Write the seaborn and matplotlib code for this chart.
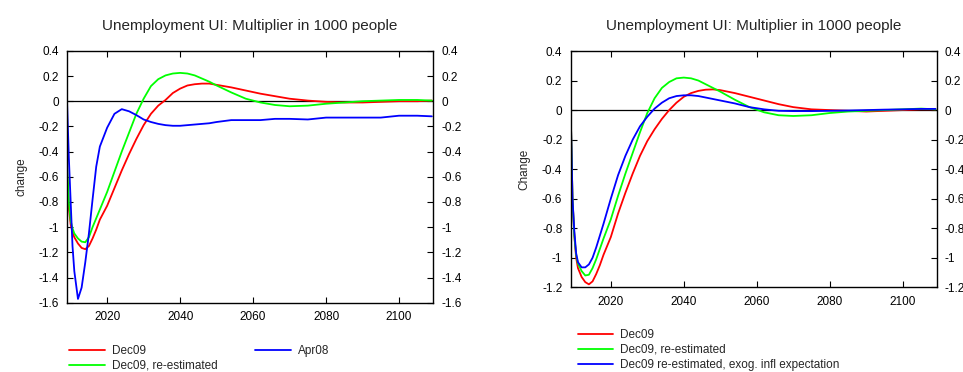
import matplotlib
matplotlib.use("Agg")
import matplotlib.pyplot as plt
import seaborn as sns
import pandas as pd
from matplotlib.lines import Line2D

years = [2009, 2009.5, 2010, 2010.5, 2011, 2012, 2013, 2014, 2015, 2016, 2017, 2018,
         2020, 2022, 2024, 2026, 2028, 2030, 2032, 2034, 2036, 2038, 2040, 2042,
         2044, 2046, 2048, 2050, 2054, 2058, 2062, 2066, 2070, 2075, 2080, 2085,
         2090, 2095, 2100, 2105, 2109]

left_dec09 = [-0.55, -0.85, -0.98, -1.04, -1.08, -1.13, -1.165, -1.175, -1.15, -1.09, -1.02, -0.94,
              -0.83, -0.69, -0.55, -0.42, -0.30, -0.19, -0.10, -0.035, 0.01, 0.065, 0.10, 0.125,
              0.135, 0.14, 0.14, 0.13, 0.11, 0.085, 0.06, 0.04, 0.02, 0.005, -0.005, -0.01,
              -0.01, -0.005, 0.0, 0.0, 0.005]
left_dec09_re = [-0.5, -0.8, -0.95, -1.01, -1.05, -1.09, -1.115, -1.12, -1.08, -1.0, -0.93, -0.86,
                 -0.72, -0.56, -0.40, -0.25, -0.10, 0.02, 0.12, 0.175, 0.205, 0.22, 0.225, 0.22,
                 0.205, 0.18, 0.155, 0.125, 0.07, 0.02, -0.01, -0.03, -0.04, -0.035, -0.02, -0.01,
                 0.0, 0.005, 0.01, 0.01, 0.005]
left_apr08 = [0.0, -0.45, -0.8, -1.15, -1.35, -1.57, -1.48, -1.28, -1.05, -0.78, -0.52, -0.36,
              -0.21, -0.10, -0.063, -0.08, -0.11, -0.145, -0.165, -0.18, -0.19, -0.195, -0.195, -0.19,
              -0.185, -0.18, -0.175, -0.165, -0.15, -0.15, -0.15, -0.14, -0.14, -0.145, -0.13, -0.13,
              -0.13, -0.13, -0.115, -0.115, -0.12]

right_dec09 = [0.0, -0.6, -0.85, -1.0, -1.07, -1.13, -1.165, -1.18, -1.16, -1.11, -1.05, -0.98,
               -0.86, -0.70, -0.56, -0.43, -0.31, -0.21, -0.13, -0.06, 0.0, 0.05, 0.09, 0.115,
               0.13, 0.138, 0.14, 0.135, 0.115, 0.09, 0.065, 0.04, 0.02, 0.005, 0.0, -0.005,
               -0.01, -0.005, 0.0, 0.005, 0.005]
right_dec09_re = [0.0, -0.6, -0.85, -0.98, -1.04, -1.09, -1.12, -1.115, -1.07, -1.01, -0.94, -0.87,
                  -0.74, -0.58, -0.43, -0.29, -0.15, -0.02, 0.08, 0.15, 0.19, 0.215, 0.22, 0.215,
                  0.2, 0.175, 0.15, 0.125, 0.07, 0.02, -0.015, -0.035, -0.04, -0.035, -0.02, -0.01,
                  -0.005, 0.0, 0.005, 0.01, 0.005]
right_dec09_exog = [0.0, -0.6, -0.82, -0.97, -1.03, -1.065, -1.065, -1.045, -1.0, -0.93, -0.85, -0.77,
                    -0.6, -0.44, -0.31, -0.2, -0.11, -0.045, 0.01, 0.05, 0.08, 0.095, 0.1, 0.1,
                    0.095, 0.085, 0.075, 0.065, 0.045, 0.02, 0.005, -0.005, -0.007, -0.007, -0.005, -0.003,
                    0.0, 0.003, 0.005, 0.008, 0.008]

title = "Unemployment UI: Multiplier in 1000 people"
left_labels = ["Dec09", "Dec09, re-estimated", "Apr08"]
right_labels = ["Dec09", "Dec09, re-estimated", "Dec09 re-estimated, exog. infl expectation"]
colors = ["#ff0000", "#00ff00", "#0000ff"]
left_yticks = [0.4, 0.2, 0, -0.2, -0.4, -0.6, -0.8, -1, -1.2, -1.4, -1.6]
right_yticks = [0.4, 0.2, 0, -0.2, -0.4, -0.6, -0.8, -1, -1.2]
xticks = [2020, 2040, 2060, 2080, 2100]

sns.set_theme(style="ticks")
plt.rcParams['font.family'] = ['Liberation Sans', 'DejaVu Sans']

fig = plt.figure(figsize=(9.63, 3.72), dpi=100)
axL = fig.add_axes([0.0696, 0.1863, 0.380, 0.677])
axR = fig.add_axes([0.5926, 0.2277, 0.380, 0.6352])


def fmt(v):
    s = ("%.1f" % v)
    if s.endswith(".0"):
        s = s[:-2]
    if s == "-0":
        s = "0"
    return s


def draw(ax, series, labels, yticks, ylabel):
    frames = []
    for vals, lab in zip(series, labels):
        frames.append(pd.DataFrame({"year": years, "value": vals, "series": lab}))
    df = pd.concat(frames, ignore_index=True)
    ax.axhline(0, color="black", lw=0.9, zorder=1)
    sns.lineplot(data=df, x="year", y="value", hue="series", hue_order=labels,
                 palette=dict(zip(labels, colors)), legend=False, ax=ax, lw=1.3,
                 estimator=None, sort=False)
    ax.set_xlim(2009, 2109.3)
    ax.set_ylim(min(yticks), max(yticks))
    ax.set_xticks(xticks)
    ax.set_yticks(yticks)
    ax.set_yticklabels([fmt(v) for v in yticks])
    ax.tick_params(axis="both", direction="in", length=4, width=0.8, labelsize=8.5,
                   top=True, right=True, labelright=True, pad=6, colors="black")
    ax.set_xlabel("")
    ax.set_ylabel(ylabel, fontsize=8.5, labelpad=8)
    ax.set_title(title, fontsize=11, pad=15)
    for s in ax.spines.values():
        s.set_visible(True)
        s.set_linewidth(1.0)
        s.set_color("black")


draw(axL, [left_dec09, left_dec09_re, left_apr08], left_labels, left_yticks, "change")
draw(axR, [right_dec09, right_dec09_re, right_dec09_exog], right_labels, right_yticks, "Change")

leg_font = {"family": ["Liberation Sans Narrow", "Liberation Sans"], "size": 8.5}

hL = [Line2D([], [], color=c, lw=1.3) for c in colors]
fig.legend(hL, left_labels, loc="upper left", bbox_to_anchor=(0.072, 1 - 345 / 372),
           bbox_transform=fig.transFigure, ncol=2, frameon=False, prop=leg_font,
           handlelength=3.0, handletextpad=0.6, labelspacing=0.25, columnspacing=3.2,
           borderaxespad=0, borderpad=0)

hR = [Line2D([], [], color=c, lw=1.3) for c in colors]
fig.legend(hR, right_labels, loc="upper left", bbox_to_anchor=(0.6, 1 - 329 / 372),
           bbox_transform=fig.transFigure, ncol=1, frameon=False, prop=leg_font,
           handlelength=3.0, handletextpad=0.6, labelspacing=0.25,
           borderaxespad=0, borderpad=0)

fig.savefig("out.png", dpi=100)
